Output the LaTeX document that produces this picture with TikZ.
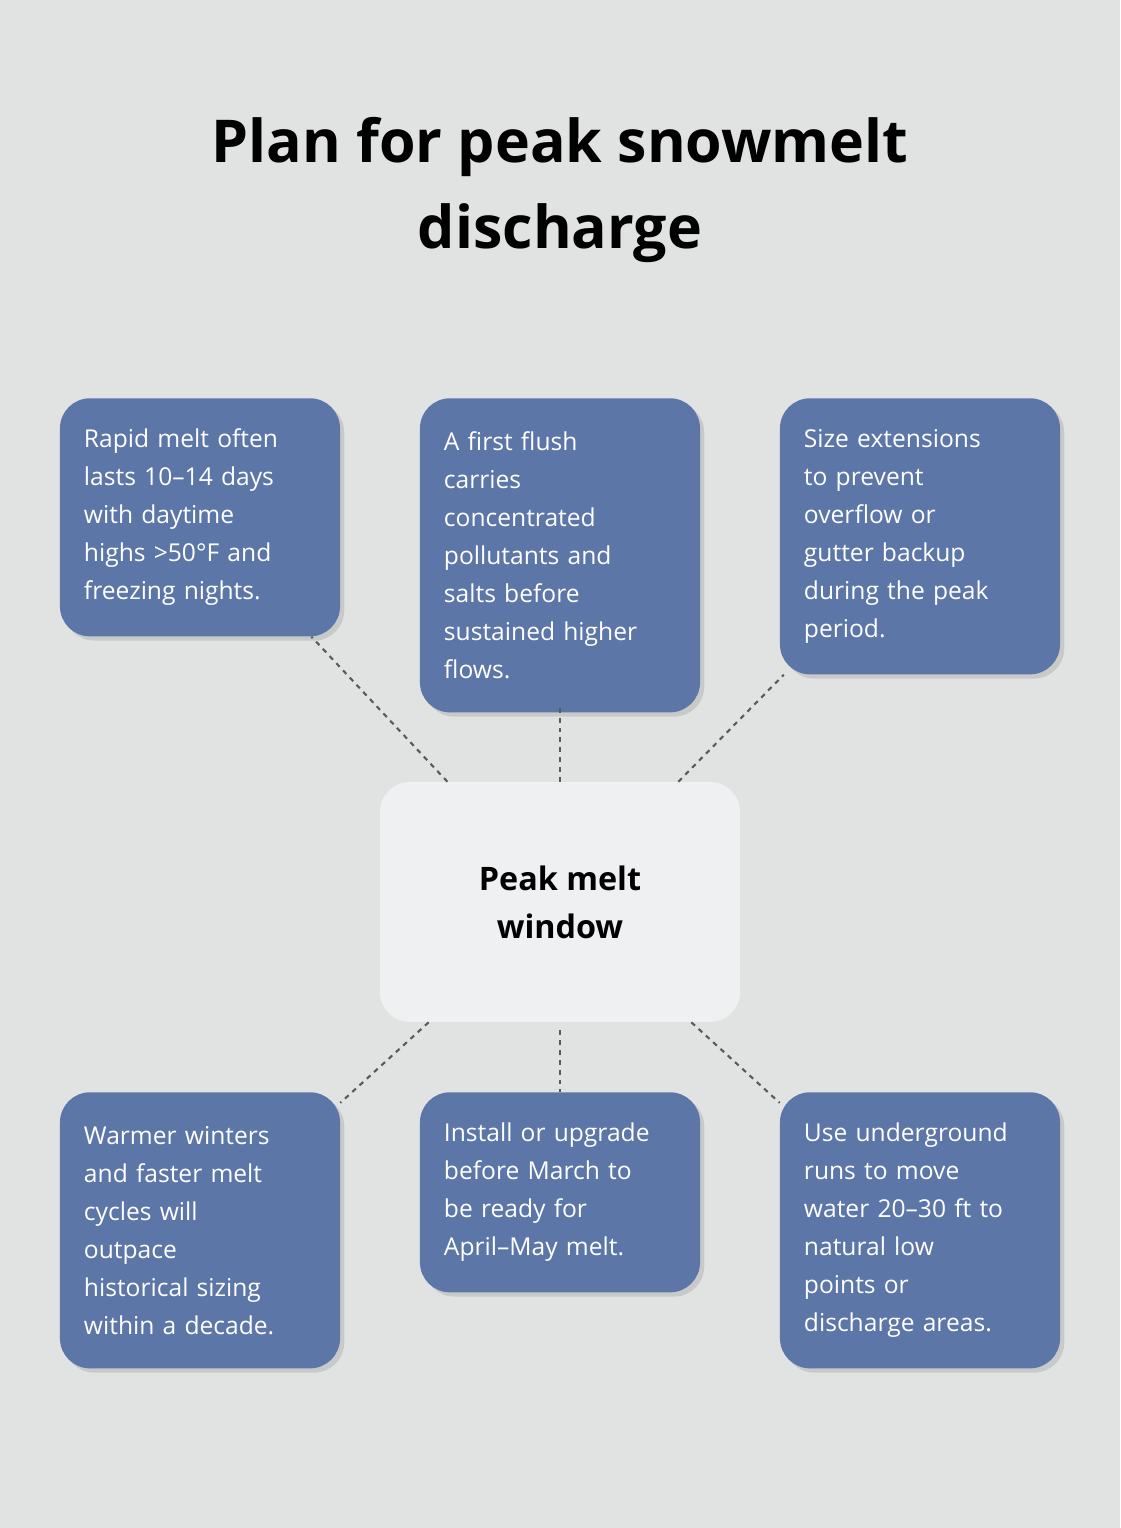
\documentclass[tikz,border=0pt]{standalone}
\usepackage{fontspec}
\setmainfont{Open Sans}
\usetikzlibrary{shadows,calc}
\definecolor{pagebg}{HTML}{E1E3E2}
\definecolor{boxblue}{HTML}{5C76A8}
\definecolor{hubfill}{HTML}{EFF0F2}
\definecolor{linkgray}{HTML}{5A5A5A}
\tikzset{
  tip/.style={rectangle, rounded corners=0.75cm, fill=boxblue, text=white,
    minimum width=7cm, text width=5.8cm, inner xsep=0.6cm, align=left,
    font=\fontsize{17.5}{27}\selectfont, anchor=north,
    drop shadow={opacity=0.25, shadow xshift=3pt, shadow yshift=-3pt}},
  hub/.style={rectangle, rounded corners=0.75cm, fill=hubfill,
    minimum width=9cm, minimum height=6cm, align=center,
    font=\fontsize{23}{34}\selectfont\bfseries},
  link/.style={draw=linkgray, line width=1.5pt, dash pattern=on 3.5pt off 3.5pt},
}
\begin{document}
\begin{tikzpicture}[x=0.025cm,y=-0.025cm]
  \fill[pagebg] (0,0) rectangle (1120,1528);
  \node[font=\fontsize{42}{61}\selectfont\bfseries, align=center] (title) at (560,190)
    {Plan for peak snowmelt\\discharge};
  %
  \node[hub] (hub) at (560,902) {Peak melt\\window};
  %
  \node[tip, minimum height=5.95cm] (melt) at (200,398)
    {Rapid melt often\\lasts 10–14 days\\with daytime\\highs >50°F and\\freezing nights.};
  \node[tip, minimum height=7.85cm] (flush) at (560,398)
    {A first flush\\carries\\concentrated\\pollutants and\\salts before\\sustained higher\\flows.};
  \node[tip, minimum height=6.9cm] (size) at (920,398)
    {Size extensions\\to prevent\\overflow or\\gutter backup\\during the peak\\period.};
  \node[tip, minimum height=6.9cm] (warm) at (200,1092)
    {Warmer winters\\and faster melt\\cycles will\\outpace\\historical sizing\\within a decade.};
  \node[tip, minimum height=5cm] (install) at (560,1092)
    {Install or upgrade\\before March to\\be ready for\\April–May melt.};
  \node[tip, minimum height=6.9cm] (runs) at (920,1092)
    {Use underground\\runs to move\\water 20–30 ft to\\natural low\\points or\\discharge areas.};
  %
  \begin{scope}[on background layer/.style={}]
    \draw[link] (hub) -- (melt);
    \draw[link] ($(hub.north)+(0,0)$) -- ($(flush.south)+(0,-6)$);
    \draw[link] (hub) -- (size);
    \draw[link] (hub) -- (warm);
    \draw[link] ($(hub.south)+(0,8)$) -- (install.north);
    \draw[link] (hub) -- (runs);
  \end{scope}
\end{tikzpicture}
\end{document}
